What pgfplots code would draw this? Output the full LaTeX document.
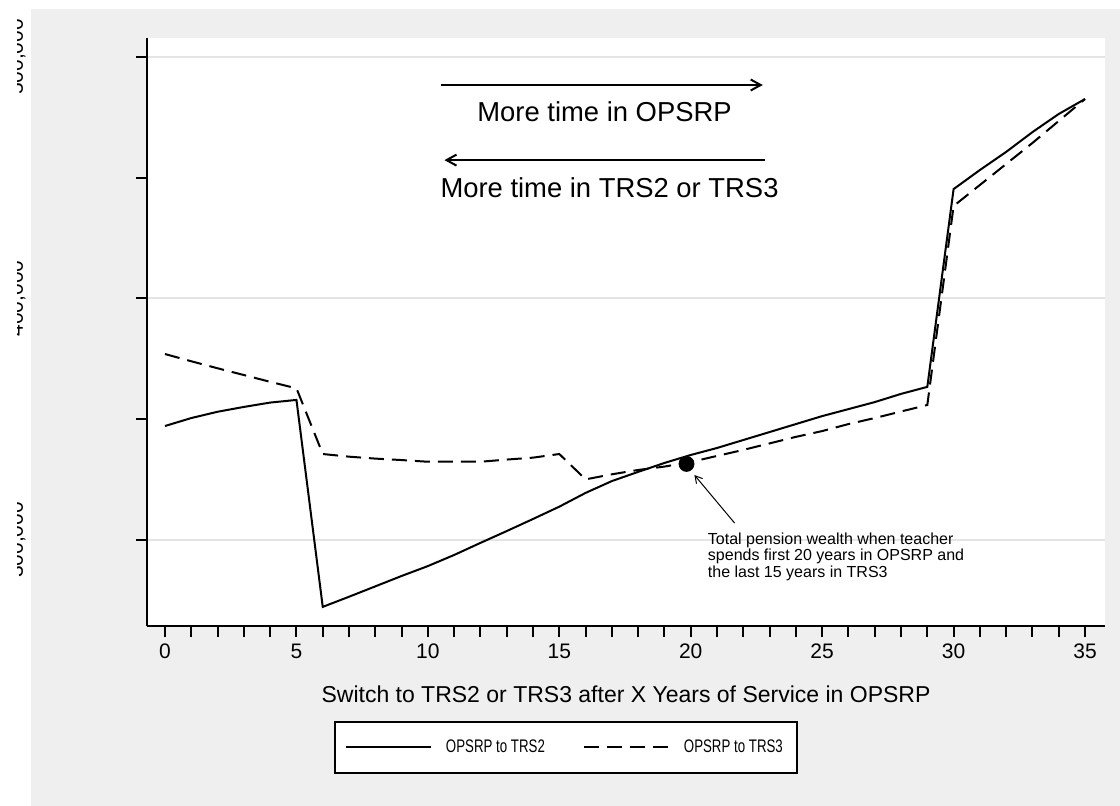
\documentclass[border=0pt]{standalone}
\usepackage{pgfplots}
\pgfplotsset{compat=1.18}
\usepackage{fontspec}
\setmainfont{Liberation Sans}
\usetikzlibrary{arrows.meta}
\definecolor{bgray}{RGB}{239,239,239}
\definecolor{gridc}{RGB}{228,228,228}
\begin{document}
\begin{tikzpicture}[x=1pt,y=1pt]
\fill[white] (0,0) rectangle (560,403);
\fill[bgray] (15.5,0) rectangle (560,398.5);
\begin{axis}[
  at={(73.5pt,90pt)}, anchor=south west, scale only axis,
  width=479pt, height=294pt,
  xmin=-0.686, xmax=35.76, ymin=264.39, ymax=507.87,
  axis lines*=left,
  axis background/.style={fill=white},
  axis line style={line width=1pt, black},
  xtick={0,5,...,35}, minor xtick={0,...,35},
  ytick={300,400,500}, minor ytick={350,450},
  yticklabels={{300,000},{400,000},{500,000}},
  tick align=outside, major tick length=5.5pt, minor tick length=5.5pt,
  every tick/.style={line width=1pt, black},
  ymajorgrids, major grid style={draw=gridc, line width=1pt},
  /pgf/number format/assume math mode=true,
  xticklabel style={font=\fontsize{10.5}{12}\selectfont},
  yticklabel style={font=\fontsize{10.5}{12}\selectfont, rotate=90, anchor=base},
  yticklabel shift=56.5pt,
  xlabel={Switch to TRS2 or TRS3 after X Years of Service in OPSRP},
  xlabel style={at={(axis description cs:0.5,-0.1293)}, anchor=base, font=\fontsize{11.5}{13}\selectfont},
  legend columns=2,
  legend style={at={(axis description cs:0.4373,-0.2066)}, anchor=center, draw=black, line width=1pt, fill=white,
    font=\fontsize{9.1}{11}\selectfont, inner xsep=5pt, inner ysep=7pt,
    /tikz/every even column/.append style={column sep=17pt}},
  legend image code/.code={\draw[#1] (0pt,0pt) -- (42.5pt,0pt);},
  clip=false,
]
\addplot[black, line width=1pt] coordinates {
(0,347.2) (1,350.5) (2,353.1) (3,355.1) (4,356.9) (5,358.0) (6,272.3) (7,276.5) (8,280.8) (9,285.1)
(10,289.2) (11,293.8) (12,298.8) (13,303.7) (14,308.7) (15,313.8) (16,319.5) (17,324.4) (18,328.2)
(19,331.9) (20,335.2) (21,338.1) (22,341.4) (23,344.7) (24,348.0) (25,351.3) (26,354.2) (27,357.1)
(28,360.5) (29,363.4) (30,445.3) (31,453.2) (32,460.7) (33,468.9) (34,476.4) (35,482.6)};
\addplot[black, line width=1pt, dash pattern=on 7.5pt off 4pt] coordinates {
(0,377.0) (1,374.0) (2,371.1) (3,368.3) (4,365.5) (5,362.8) (6,335.6) (7,334.5) (8,333.7) (9,333.1)
(10,332.4) (11,332.4) (12,332.4) (13,333.3) (14,334.1) (15,335.6) (16,325.1) (17,327.2) (18,329.0)
(19,330.4) (20,332.3) (21,334.8) (22,337.3) (23,340.0) (24,342.7) (25,345.1) (26,348.0) (27,350.5)
(28,353.2) (29,355.9) (30,438.3) (31,447.0) (32,455.7) (33,464.4) (34,473.5) (35,482.6)};
\addplot[only marks, mark=*, mark size=3.75pt, black, forget plot] coordinates {(19.84,331.5)};
\legend{\hspace{5pt}\scalebox{0.73}[1]{OPSRP to TRS2},\hspace{5pt}\scalebox{0.73}[1]{OPSRP to TRS3}}
\draw[line width=1pt, -{Straight Barb[length=5pt,width=5.5pt]}] (axis cs:10.51,488.4) -- (axis cs:22.74,488.4);
\node[font=\fontsize{13.7}{16}\selectfont, anchor=base, inner sep=0pt] at (axis cs:16.72,473.1) {More time in OPSRP};
\draw[line width=1pt, -{Straight Barb[length=5pt,width=5.5pt]}] (axis cs:22.81,457.3) -- (axis cs:10.63,457.3);
\node[font=\fontsize{13.7}{16}\selectfont, anchor=base, inner sep=0pt] at (axis cs:16.91,442.0) {More time in TRS2 or TRS3};
\draw[line width=0.5pt, -{Straight Barb[length=3.5pt,width=4pt]}] (axis cs:21.67,307.0) -- (axis cs:20.14,326.9);
\node[align=left, anchor=north west, inner sep=0pt, font=\fontsize{8}{8.4}\selectfont] at (axis cs:20.64,303.3)
  {Total pension wealth when teacher\\spends first 20 years in OPSRP and\\the last 15 years in TRS3};
\end{axis}
\fill[white] (0,0) rectangle (8.5,403);
\pgfresetboundingbox
\useasboundingbox (0,0) rectangle (560,403);
\end{tikzpicture}
\end{document}
